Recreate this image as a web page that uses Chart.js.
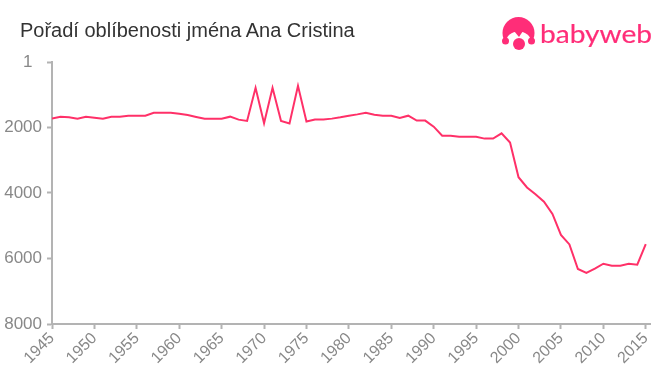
<!DOCTYPE html>
<html lang="cs">
<head>
<meta charset="utf-8">
<title>Pořadí oblíbenosti jména Ana Cristina</title>
<script src="https://cdn.jsdelivr.net/npm/chart.js@4"></script>
<style>
  html, body { margin: 0; padding: 0; background: #fff; }
  #wrap { position: relative; width: 660px; height: 375px; overflow: hidden; }
  #wrap canvas { position: absolute; left: 0; top: 0; }
  #title { position: absolute; left: 20px; top: 19px; font: 20px "Liberation Sans", Arial, sans-serif; color: #333; white-space: nowrap; }
  #logo { position: absolute; left: 495px; top: 8px; }
</style>
</head>
<body>
<div id="wrap">
  <canvas id="chart" width="660" height="375"></canvas>
  <div id="title">Pořadí oblíbenosti jména Ana Cristina</div>
  <svg id="logo" width="165" height="50" viewBox="0 0 165 50">
    <circle cx="23.5" cy="25" r="16" fill="#ff2d78"/>
    <ellipse cx="23.5" cy="34" rx="12.5" ry="10.5" fill="#fff"/>
    <rect x="6" y="38" width="36" height="8" fill="#fff"/>
    <path d="M19 23 L24 29 L28 23 Z" fill="#ff2d78"/>
    <circle cx="10.5" cy="33" r="3.5" fill="#ff2d78"/>
    <circle cx="36.5" cy="33" r="3.5" fill="#ff2d78"/>
    <circle cx="24" cy="36" r="6" fill="#ff2d78"/>
    <text x="45" y="35" font-family="Lato, sans-serif" font-size="25" fill="#ff2d78" stroke="#ff2d78" stroke-width="0.2" textLength="112" lengthAdjust="spacingAndGlyphs">babyweb</text>
  </svg>
</div>
<script>
const years = [
  1945, 1946, 1947, 1948, 1949, 1950, 1951, 1952, 1953, 1954,
  1955, 1956, 1957, 1958, 1959, 1960, 1961, 1962, 1963, 1964,
  1965, 1966, 1967, 1968, 1969, 1970, 1971, 1972, 1973, 1974,
  1975, 1976, 1977, 1978, 1979, 1980, 1981, 1982, 1983, 1984,
  1985, 1986, 1987, 1988, 1989, 1990, 1991, 1992, 1993, 1994,
  1995, 1996, 1997, 1998, 1999, 2000, 2001, 2002, 2003, 2004,
  2005, 2006, 2007, 2008, 2009, 2010, 2011, 2012, 2013, 2014,
  2015
];
const ranks = [
  1730, 1670, 1690, 1735, 1670, 1700, 1735, 1670, 1670, 1640,
  1640, 1640, 1550, 1550, 1550, 1580, 1620, 1680, 1735, 1735,
  1735, 1670, 1760, 1800, 790, 1870, 790, 1800, 1880, 730,
  1820, 1760, 1760, 1730, 1690, 1640, 1600, 1550, 1610, 1640,
  1640, 1710, 1640, 1790, 1790, 1975, 2250, 2250, 2285, 2285,
  2285, 2340, 2340, 2180, 2460, 3520, 3830, 4040, 4265, 4640,
  5280, 5570, 6320, 6440, 6310, 6160, 6220, 6220, 6160, 6190,
  5560
];
const rankTicks = [1, 2000, 4000, 6000, 8000];
const yearTicks = [1945, 1950, 1955, 1960, 1965, 1970, 1975, 1980, 1985, 1990, 1995, 2000, 2005, 2010, 2015];

const AXIS_COLOUR = '#b3b3b3';
const TICK_TEXT = '#888';

new Chart(document.getElementById('chart').getContext('2d'), {
  type: 'line',
  data: {
    datasets: [
      {
        data: years.map((year, i) => ({ x: year, y: ranks[i] })),
        borderColor: '#ff3068',
        borderWidth: 2,
        pointRadius: 0,
        tension: 0,
        fill: false,
      },
    ],
  },
  options: {
    responsive: false,
    animation: false,
    layout: { padding: { top: 62, right: 10, left: 0, bottom: 0 } },
    plugins: {
      legend: { display: false },
      title: { display: false },
      tooltip: { enabled: false },
    },
    scales: {
      x: {
        type: 'linear',
        min: 1945,
        max: 2015.5, // the axis line runs on a little past the last tick
        afterFit: (scale) => { scale.height = 51; },
        afterBuildTicks: (scale) => {
          scale.ticks = yearTicks.map((value) => ({ value }));
        },
        border: { color: AXIS_COLOUR, width: 2 },
        grid: {
          drawOnChartArea: false,
          tickColor: AXIS_COLOUR,
          tickLength: 5,
          tickWidth: 2,
        },
        ticks: {
          autoSkip: false,
          maxRotation: 45,
          minRotation: 45,
          padding: 0,
          color: TICK_TEXT,
          font: { family: '"Liberation Sans", Arial, sans-serif', size: 16 },
          callback: (value) => String(value),
        },
      },
      y: {
        type: 'linear',
        reverse: true,
        min: 1,
        max: 8000,
        afterFit: (scale) => { scale.width = 52; },
        afterBuildTicks: (scale) => {
          scale.ticks = rankTicks.map((value) => ({ value }));
        },
        border: { color: AXIS_COLOUR, width: 2 },
        grid: {
          drawOnChartArea: false,
          tickColor: AXIS_COLOUR,
          tickLength: 5,
          tickWidth: 2,
        },
        ticks: {
          padding: 5,
          color: TICK_TEXT,
          font: { family: '"Liberation Sans", Arial, sans-serif', size: 17 },
          // the "1" sits further left than the other labels in the source
          callback: (value) => (value === 1 ? '1\u00a0\u00a0' : String(value)),
        },
      },
    },
  },
});
</script>
</body>
</html>
